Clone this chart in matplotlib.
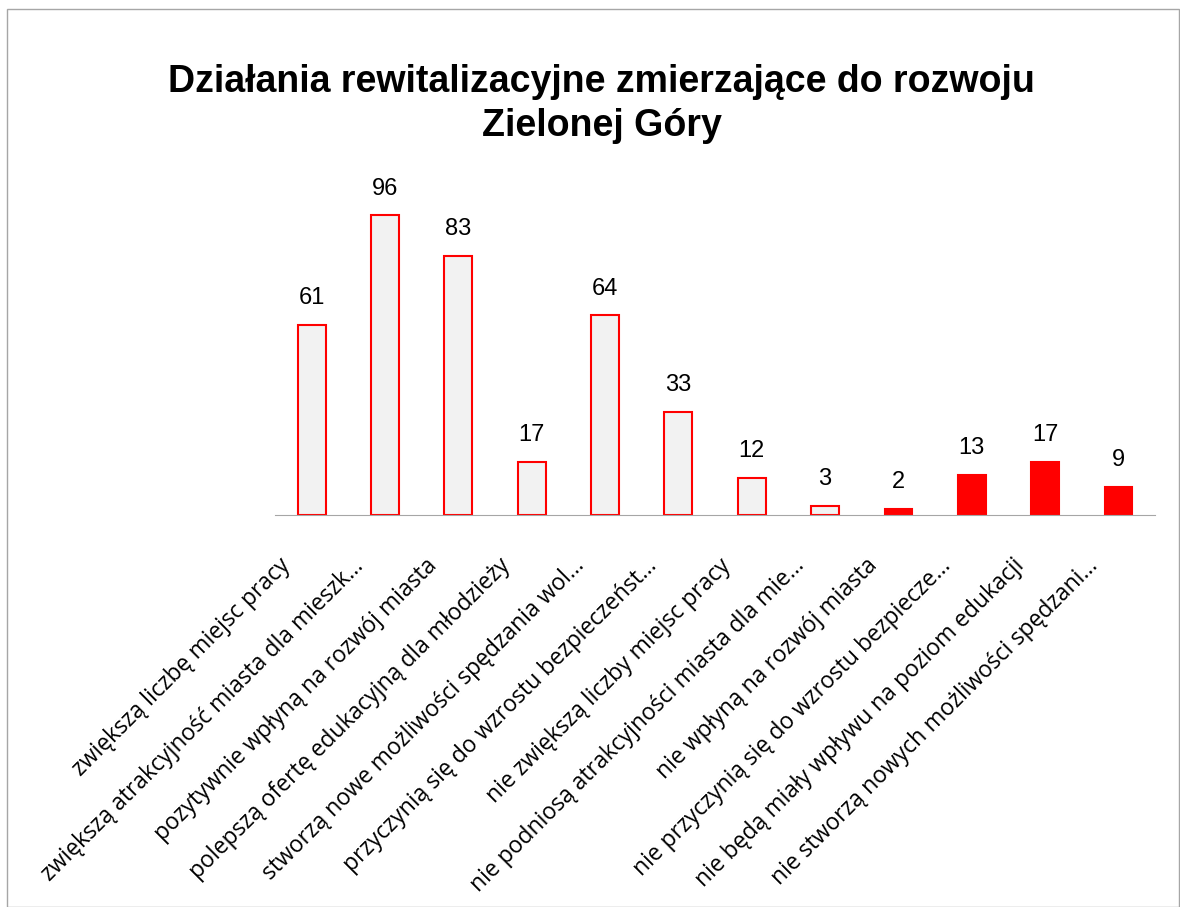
import numpy as np
import matplotlib
matplotlib.use('Agg')
import matplotlib.pyplot as plt
import matplotlib.transforms as mtransforms
from matplotlib.patches import Rectangle

categories = [
    'zwiększą liczbę miejsc pracy',
    'zwiększą atrakcyjność miasta dla mieszk...',
    'pozytywnie wpłyną na rozwój miasta',
    'polepszą ofertę edukacyjną dla młodzieży',
    'stworzą nowe możliwości spędzania wol...',
    'przyczynią się do wzrostu bezpieczeńst...',
    'nie zwiększą liczby miejsc pracy',
    'nie podniosą atrakcyjności miasta dla mie...',
    'nie wpłyną na rozwój miasta',
    'nie przyczynią się do wzrostu bezpiecze...',
    'nie będą miały wpływu na poziom edukacji',
    'nie stworzą nowych możliwości spędzani...',
]
values = [61, 96, 83, 17, 64, 33, 12, 3, 2, 13, 17, 9]
solid = [False] * 8 + [True] * 4

title = 'Działania rewitalizacyjne zmierzające do rozwoju\nZielonej Góry'

fig = plt.figure(figsize=(11.8, 9.07), dpi=100)
ax = fig.add_axes([0.233, 0.432, 0.746, 0.379])

x = np.arange(len(values))
faces = ['#FF0000' if s else '#F2F2F2' for s in solid]
ax.bar(x, values, width=0.38, color=faces, edgecolor='#FF0000', linewidth=1.5)

for xi, v in zip(x, values):
    ax.text(xi, v + 5, str(v), ha='center', va='bottom', fontsize=17,
            family=['Liberation Sans', 'DejaVu Sans'])

ax.set_xlim(-0.5, 11.5)
ax.set_ylim(0, 110)
ax.set_yticks([])
for s in ['top', 'right', 'left']:
    ax.spines[s].set_visible(False)
ax.spines['bottom'].set_color('#A6A6A6')
ax.set_xticks(x)
ax.set_xticklabels(categories, rotation=45, ha='right', rotation_mode='anchor',
                   fontsize=16.5, family=['Open Sans', 'DejaVu Sans'])
ax.tick_params(axis='x', length=0, pad=10)

# przesunięcie etykiet w lewo i w dół jak w oryginale
offset = mtransforms.ScaledTranslation(-0.33, -0.25, fig.dpi_scale_trans)
for lab in ax.get_xticklabels():
    lab.set_transform(lab.get_transform() + offset)

fig.text(0.51, 0.929, title, ha='center', va='top', fontsize=27, fontweight='bold',
         linespacing=1.28, family=['Liberation Sans', 'DejaVu Sans'])

# ramka wokół wykresu
fig.patches.append(Rectangle((0.006, 0.0), 0.993, 0.99, transform=fig.transFigure,
                             fill=False, edgecolor='#A6A6A6', linewidth=1))

fig.savefig('out.png', dpi=100)
